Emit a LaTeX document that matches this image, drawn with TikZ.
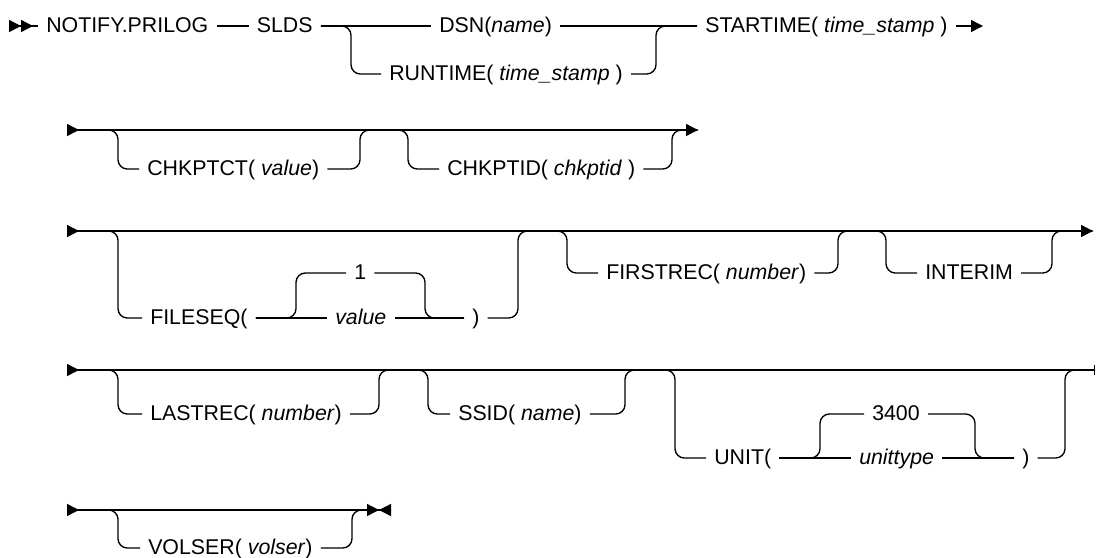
\documentclass[tikz,border=0pt]{standalone}
\usepackage{fontspec}
\setmainfont{Liberation Sans}
\usetikzlibrary{positioning,arrows.meta}
\tikzset{
  kw/.style      ={anchor=west, inner xsep=6pt, inner ysep=0pt,
                   text height=9.5pt, text depth=0pt},
  rail/.style    ={line width=1pt, rounded corners=7pt},
  startdbl/.style={{Triangle[length=9pt,width=9pt,reversed] Triangle[length=9pt,width=9pt,reversed]}-},
  endarr/.style  ={-{Triangle[length=9pt,width=9pt]}},
  rowarr/.style  ={{Triangle[length=9pt,width=9pt,reversed]}-{Triangle[length=9pt,width=9pt]}},
  rowtick/.style ={{Triangle[length=9pt,width=9pt,reversed]}-{Bar[width=7pt]}},
  rowend/.style  ={{Triangle[length=9pt,width=9pt,reversed]}-{Triangle[length=9pt,width=9pt] Triangle[length=9pt,width=9pt,reversed]}},
}

\begin{document}
\begin{tikzpicture}[x=0.75pt, y=-0.75pt, font=\fontsize{16pt}{19pt}\selectfont]
  \useasboundingbox (0,0) rectangle (1096,557);

  % row 1
  \coordinate (s1) at (9,26);
  \coordinate (e1) at (983,26);
  \coordinate (b1) at (351,74);
  \coordinate (j1) at (656,74);
  \node[kw] (notify) at (38,26) {NOTIFY.PRILOG};
  \node[kw, right=24pt of notify] (slds) {SLDS};
  \node[kw] (dsn) at (431,26) {DSN(\textit{name})};
  \node[kw] (runtime) at (381,74) {RUNTIME( \textit{time\_stamp} )};
  \node[kw] (startime) at (697,26) {STARTIME( \textit{time\_stamp} )};
  \draw[rail, startdbl] (s1) -- (notify);
  \draw[rail] (notify) -- (slds);
  \draw[rail] (slds) -- (dsn);
  \draw[rail] (dsn) -- (startime);
  \draw[rail, endarr] (startime) -- (e1);
  \draw[rail] (slds) -| (b1) -- (runtime);
  \draw[rail] (runtime) -- (j1) |- (startime);

  % row 2
  \coordinate (s2) at (67,130);
  \coordinate (e2) at (698,130);
  \coordinate (in2a) at (118,130);
  \coordinate (out2a) at (360,130);
  \coordinate (in2b) at (408,130);
  \coordinate (out2b) at (672,130);
  \node[kw] (chkptct) at (139,169) {CHKPTCT( \textit{value})};
  \node[kw] (chkptid) at (439,169) {CHKPTID( \textit{chkptid} )};
  \draw[rail, rowarr] (s2) -- (e2);
  \draw[rail] (s2) -- (in2a) |- (chkptct);
  \draw[rail] (chkptct) -| (out2a) -- (in2b) |- (chkptid);
  \draw[rail] (chkptid) -| (out2b) -- (e2);

  % row 3
  \coordinate (s3) at (67,231);
  \coordinate (e3) at (1093,231);
  \coordinate (in3a) at (118,231);
  \coordinate (il3) at (296,273);
  \coordinate (ir3) at (425,318);
  \coordinate (out3a) at (518,231);
  \coordinate (in3b) at (567,231);
  \coordinate (out3b) at (838,231);
  \coordinate (in3c) at (886,231);
  \coordinate (out3c) at (1052,231);
  \node[kw] (fileseq) at (142,318) {FILESEQ(};
  \node[kw] (one) at (346,273) {1};
  \node[kw] (value) at (327,318) {\textit{value}};
  \node[kw] (rp3) at (464,318) {)};
  \node[kw] (firstrec) at (598,273) {FIRSTREC( \textit{number})};
  \node[kw] (interim) at (917,273) {INTERIM};
  \draw[rail, rowarr] (s3) -- (e3);
  \draw[rail] (s3) -- (in3a) |- (fileseq);
  \draw[rail] (fileseq) -- (value);
  \draw[rail] (fileseq) -| (il3) -- (one);
  \draw[rail] (one) -| (ir3) -- (rp3);
  \draw[rail] (value) -- (rp3);
  \draw[rail] (rp3) -| (out3a) -- (in3b) |- (firstrec);
  \draw[rail] (firstrec) -| (out3b) -- (in3c) |- (interim);
  \draw[rail] (interim) -| (out3c) -- (e3);

  % row 4
  \coordinate (s4) at (67,370);
  \coordinate (e4) at (1095,370);
  \coordinate (in4a) at (118,370);
  \coordinate (out4a) at (379,370);
  \coordinate (in4b) at (428,370);
  \coordinate (out4b) at (625,370);
  \coordinate (in4c) at (675,370);
  \coordinate (il4) at (820,414);
  \coordinate (ir4) at (975,458);
  \coordinate (out4c) at (1065,370);
  \node[kw] (lastrec) at (142,414) {LASTREC( \textit{number})};
  \node[kw] (ssid) at (450,414) {SSID( \textit{name})};
  \node[kw] (unit) at (706,458) {UNIT(};
  \node[kw] (u3400) at (864,414) {3400};
  \node[kw] (unittype) at (851,458) {\textit{unittype}};
  \node[kw] (rp4) at (1014,458) {)};
  \draw[rail, rowtick] (s4) -- (e4);
  \draw[rail] (s4) -- (in4a) |- (lastrec);
  \draw[rail] (lastrec) -| (out4a) -- (in4b) |- (ssid);
  \draw[rail] (ssid) -| (out4b) -- (in4c) |- (unit);
  \draw[rail] (unit) -- (unittype);
  \draw[rail] (unit) -| (il4) -- (u3400);
  \draw[rail] (u3400) -| (ir4) -- (rp4);
  \draw[rail] (unittype) -- (rp4);
  \draw[rail] (rp4) -| (out4c) -- (e4);

  % row 5
  \coordinate (s5) at (67,510);
  \coordinate (e5) at (391,510);
  \coordinate (in5a) at (118,510);
  \coordinate (out5a) at (352,510);
  \node[kw] (volser) at (140,548) {VOLSER( \textit{volser})};
  \draw[rail, rowend] (s5) -- (e5);
  \draw[rail] (s5) -- (in5a) |- (volser);
  \draw[rail] (volser) -| (out5a) -- (e5);
\end{tikzpicture}
\end{document}
